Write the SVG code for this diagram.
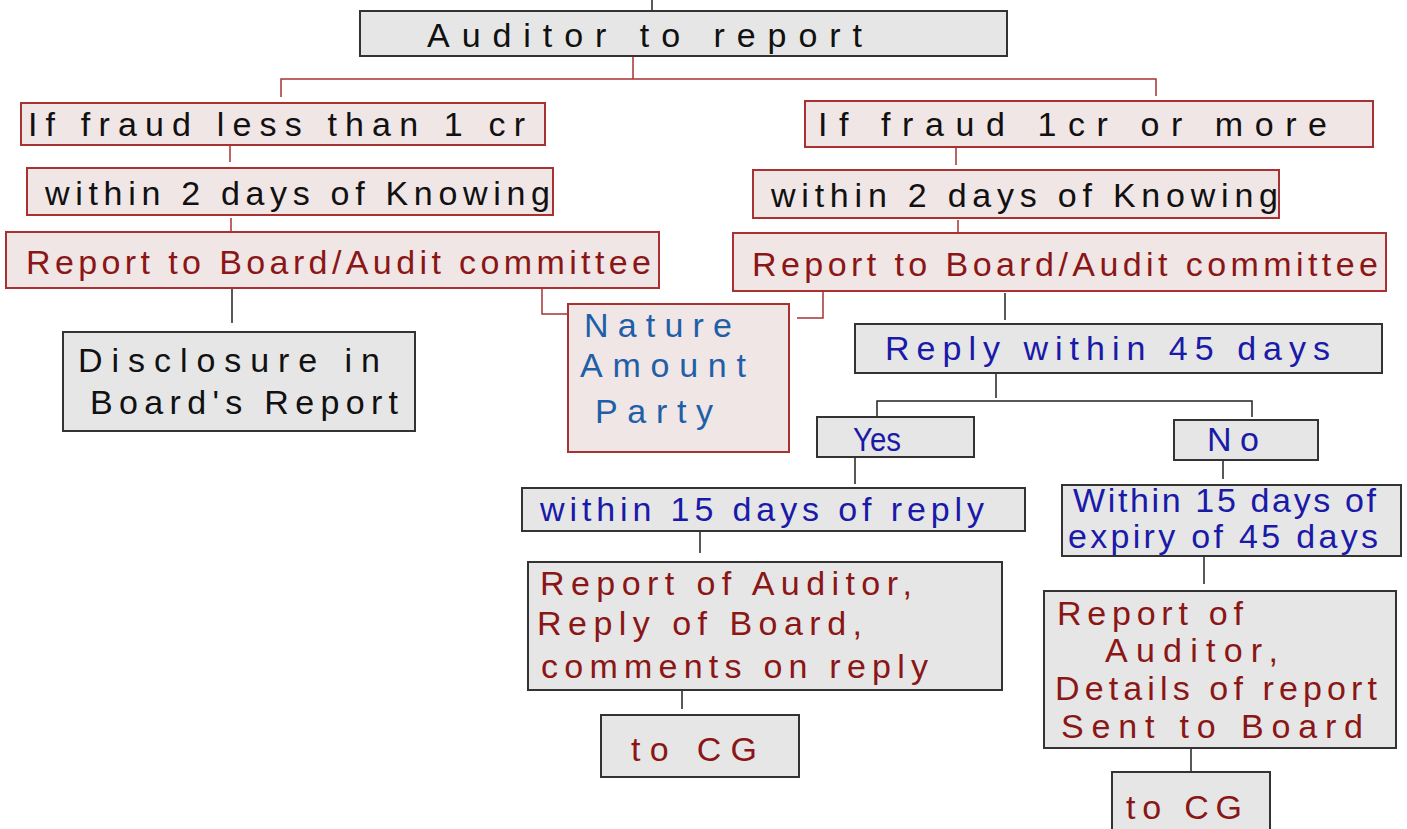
<svg xmlns="http://www.w3.org/2000/svg" width="1407" height="829" viewBox="0 0 1407 829">
<style>
.g{fill:#e6e6e6;stroke:#333;stroke-width:2}
.p{fill:#f1e6e6;stroke:#a83232;stroke-width:2}
.cr{fill:none;stroke:#a83232;stroke-width:1.5}
.ck{fill:none;stroke:#222;stroke-width:1.5}
text{font-family:"Liberation Sans",Arial,sans-serif;font-size:34px}
.k{fill:#111}
.r{fill:#8a1616}
.b{fill:#1a1aa8}
.lb{fill:#1f5fa8}
</style>
<rect width="1407" height="829" fill="#fff"/>
<g id="connectors">
<path class="ck" d="M652,0V10"/>
<path class="cr" d="M633,57V79M281,97V79H1156V96"/>
<path class="cr" d="M230,145V162M231,218V236"/>
<path class="cr" d="M956,147V165M958,220V239"/>
<path class="ck" d="M232,288V323"/>
<path class="cr" d="M542,289V314H568"/>
<path class="cr" d="M823,292V318H797"/>
<path class="ck" d="M1005,293V320"/>
<path class="ck" d="M996,373V398M877,417V401H1252V417"/>
<path class="ck" d="M855,457V484M1223,460V479"/>
<path class="ck" d="M700,531V553M1204,557V584"/>
<path class="ck" d="M682,690V709M1191,748V772"/>
</g>
<g id="n-top"><rect class="g" x="360" y="11" width="647" height="45"/><text class="k" x="427" y="47" textLength="435" lengthAdjust="spacing">Auditor to report</text></g>
<g id="n-l1"><rect class="p" x="21" y="103" width="524" height="42"/><text class="k" x="28" y="136" textLength="497" lengthAdjust="spacing">If fraud less than 1 cr</text></g>
<g id="n-l2"><rect class="p" x="27" y="168" width="526" height="47"/><text class="k" x="45" y="205" textLength="505" lengthAdjust="spacing">within 2 days of Knowing</text></g>
<g id="n-l3"><rect class="p" x="6" y="232" width="653" height="56"/><text class="r" x="26" y="274" textLength="625" lengthAdjust="spacing">Report to Board/Audit committee</text></g>
<g id="n-disc"><rect class="g" x="63" y="332" width="352" height="99"/><text class="k" x="78" y="372" textLength="302" lengthAdjust="spacing">Disclosure in</text><text class="k" x="90" y="414" textLength="308" lengthAdjust="spacing">Board's Report</text></g>
<g id="n-nature"><rect class="p" x="568" y="304" width="221" height="148"/><text class="lb" x="584" y="337" textLength="148" lengthAdjust="spacing">Nature</text><text class="lb" x="580" y="377" textLength="166" lengthAdjust="spacing">Amount</text><text class="lb" x="595" y="423" textLength="118" lengthAdjust="spacing">Party</text></g>
<g id="n-r1"><rect class="p" x="805" y="101" width="568" height="46"/><text class="k" x="818" y="136" textLength="509" lengthAdjust="spacing">If fraud 1cr or more</text></g>
<g id="n-r2"><rect class="p" x="753" y="170" width="526" height="48"/><text class="k" x="771" y="207" textLength="507" lengthAdjust="spacing">within 2 days of Knowing</text></g>
<g id="n-r3"><rect class="p" x="733" y="233" width="653" height="58"/><text class="r" x="752" y="276" textLength="626" lengthAdjust="spacing">Report to Board/Audit committee</text></g>
<g id="n-reply"><rect class="g" x="855" y="324" width="527" height="49"/><text class="b" x="885" y="360" textLength="445" lengthAdjust="spacing">Reply within 45 days</text></g>
<g id="n-yes"><rect class="g" x="817" y="417" width="157" height="40"/><text class="b" x="853" y="451" textLength="48" lengthAdjust="spacingAndGlyphs">Yes</text></g>
<g id="n-no"><rect class="g" x="1174" y="420" width="144" height="40"/><text class="b" x="1207" y="451" textLength="52" lengthAdjust="spacing">No</text></g>
<g id="n-15r"><rect class="g" x="522" y="488" width="503" height="43"/><text class="b" x="540" y="521" textLength="444" lengthAdjust="spacing">within 15 days of reply</text></g>
<g id="n-15e"><rect class="g" x="1062" y="485" width="339" height="71"/><text class="b" x="1073" y="512" textLength="303" lengthAdjust="spacing">Within 15 days of</text><text class="b" x="1068" y="548" textLength="310" lengthAdjust="spacing">expiry of 45 days</text></g>
<g id="n-rep-l"><rect class="g" x="528" y="562" width="474" height="128"/><text class="r" x="540" y="595" textLength="372" lengthAdjust="spacing">Report of Auditor,</text><text class="r" x="537" y="635" textLength="325" lengthAdjust="spacing">Reply of Board,</text><text class="r" x="541" y="678" textLength="387" lengthAdjust="spacing">comments on reply</text></g>
<g id="n-cg-l"><rect class="g" x="601" y="715" width="198" height="62"/><text class="r" x="631" y="761" textLength="126" lengthAdjust="spacing">to CG</text></g>
<g id="n-rep-r"><rect class="g" x="1044" y="591" width="352" height="157"/><text class="r" x="1057" y="625" textLength="186" lengthAdjust="spacing">Report of</text><text class="r" x="1105" y="662" textLength="173" lengthAdjust="spacing">Auditor,</text><text class="r" x="1055" y="700" textLength="322" lengthAdjust="spacing">Details of report</text><text class="r" x="1061" y="738" textLength="302" lengthAdjust="spacing">Sent to Board</text></g>
<g id="n-cg-r"><rect class="g" x="1112" y="772" width="158" height="70"/><text class="r" x="1126" y="819" textLength="116" lengthAdjust="spacing">to CG</text></g>
</svg>
